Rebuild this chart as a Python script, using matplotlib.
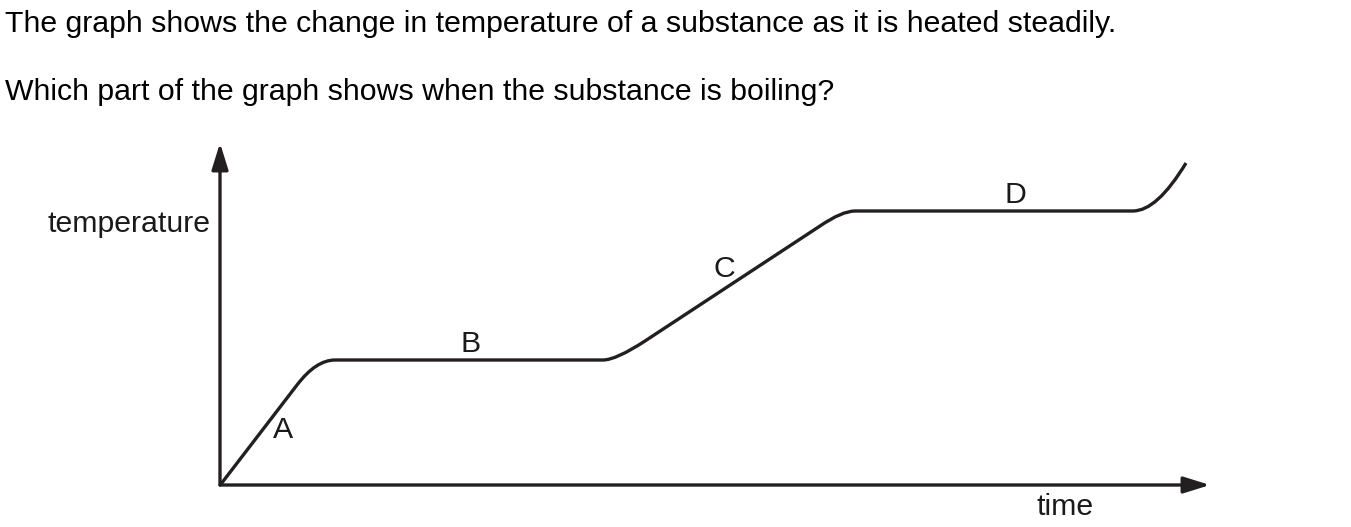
import matplotlib
matplotlib.use("Agg")
import matplotlib.pyplot as plt
from matplotlib.path import Path
from matplotlib.patches import PathPatch

plt.rcParams['font.family'] = ['Liberation Sans', 'DejaVu Sans']

# ─────────────────────────────────────────────
# DATA  (schematic heating curve, arbitrary units)
# ─────────────────────────────────────────────
question_lines = [
    "The graph shows the change in temperature of a substance as it is heated steadily.",
    "Which part of the graph shows when the substance is boiling?",
]

# key points of the curve; 'curve' points are the control + end of a rounded corner
time_pts = [1, 77, 96, 115, 383, 396, 425, 600, 622, 635, 913, 937, 966]
temp_pts = [1, 100, 125, 125, 125, 125, 144, 259, 274, 274, 274, 274, 322]
seg_kind = ['move', 'line', 'curve', 'curve', 'line', 'curve', 'curve',
            'line', 'curve', 'curve', 'line', 'curve', 'curve']

part_labels = ['A', 'B', 'C', 'D']
label_time = [63, 251, 504, 795]
label_temp = [47, 133, 208, 282]

INK = '#231f20'
TEXT = '#1a1a1a'
FS = 21.8

# ─────────────────────────────────────────────
# FIGURE
# ─────────────────────────────────────────────
W, H = 1351, 527
fig = plt.figure(figsize=(W / 100, H / 100), dpi=100)
fig.patch.set_facecolor('white')

fig.text(5 / W, 1 - 32 / H, question_lines[0], fontsize=FS,
         color='black', ha='left', va='baseline')
fig.text(5 / W, 1 - 100 / H, question_lines[1], fontsize=FS,
         color='black', ha='left', va='baseline')

ax = fig.add_axes([220 / W, 42 / H, 1000 / W, 345 / H])
ax.set_xlim(0, 1000)
ax.set_ylim(0, 345)
ax.axis('off')

# axes with arrow heads
arrow = dict(arrowstyle='-|>,head_length=1.6,head_width=0.5',
             lw=2.4, color=INK, mutation_scale=10,
             shrinkA=0, shrinkB=0)
ax.annotate('', xy=(0, 342), xytext=(0, 0), arrowprops=arrow,
            annotation_clip=False)
ax.annotate('', xy=(990, 0), xytext=(0, 0), arrowprops=arrow,
            annotation_clip=False)

# heating curve
codes_map = {'move': Path.MOVETO, 'line': Path.LINETO, 'curve': Path.CURVE3}
path = Path(list(zip(time_pts, temp_pts)), [codes_map[k] for k in seg_kind])
ax.add_patch(PathPatch(path, facecolor='none', edgecolor=INK, lw=2.4,
                       capstyle='butt', joinstyle='round', clip_on=False))

for lab, t, T in zip(part_labels, label_time, label_temp):
    ax.text(t, T, lab, fontsize=FS, color=TEXT, ha='center',
            va='baseline')

ax.text(-10, 253, 'temperature', fontsize=FS, color=TEXT, ha='right',
        va='baseline')
ax.text(845, -30, 'time', fontsize=FS, color=TEXT, ha='center',
        va='baseline')

fig.savefig('out.png', dpi=100)
